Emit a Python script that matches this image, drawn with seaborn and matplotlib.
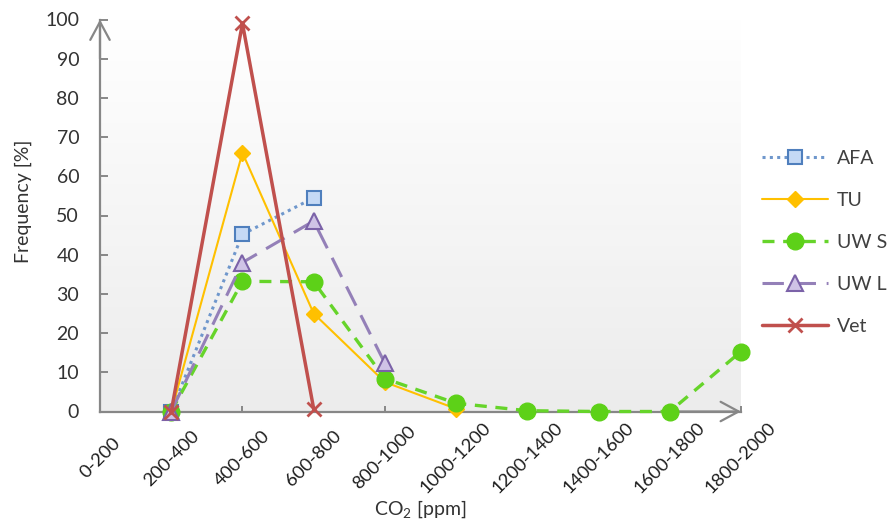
import numpy as np
import pandas as pd
import matplotlib
matplotlib.use("Agg")
import matplotlib.pyplot as plt
import matplotlib.transforms as mtransforms
from matplotlib.colors import LinearSegmentedColormap
import seaborn as sns

# ---------------- data ----------------
categories = ["0-200", "200-400", "400-600", "600-800", "800-1000", "1000-1200",
              "1200-1400", "1400-1600", "1600-1800", "1800-2000"]

afa_cats = ["200-400", "400-600", "600-800"]
afa_vals = [0, 45.2, 54.5]

tu_cats = ["200-400", "400-600", "600-800", "800-1000", "1000-1200"]
tu_vals = [0, 66.0, 25.0, 7.5, 0.7]

uws_cats = ["200-400", "400-600", "600-800", "800-1000", "1000-1200",
            "1200-1400", "1400-1600", "1600-1800", "1800-2000"]
uws_vals = [0, 33.2, 33.1, 8.4, 2.1, 0.2, 0, 0, 15.3]

uwl_cats = ["200-400", "400-600", "600-800", "800-1000"]
uwl_vals = [0, 38.0, 48.6, 12.3]

vet_cats = ["200-400", "400-600", "600-800"]
vet_vals = [0, 99.0, 0.7]

# ---------------- style ----------------
sns.set_theme(style="white")
plt.rcParams["font.family"] = ["Lato", "DejaVu Sans"]
plt.rcParams["mathtext.fontset"] = "custom"
plt.rcParams["mathtext.rm"] = "Lato"
plt.rcParams["mathtext.it"] = "Lato:italic"
plt.rcParams["mathtext.bf"] = "Lato:bold"

FS = 14
AXIS_GRAY = "#878787"

fig = plt.figure(figsize=(8.94, 5.22), dpi=100)
ax = fig.add_axes([100 / 894, 1 - 411.5 / 522, 641 / 894, 392 / 522])

# gradient background
cmap = LinearSegmentedColormap.from_list("bg", ["#ffffff", "#ececec"])
grad = np.linspace(0, 1, 256).reshape(-1, 1)
ax.imshow(grad, cmap=cmap, extent=(0, 1, 0, 1), transform=ax.transAxes,
          aspect="auto", zorder=0, interpolation="bicubic")

def to_df(cats, vals, name):
    return pd.DataFrame({"pos": [categories.index(c) for c in cats],
                         "val": vals, "series": name})

specs = [
    (to_df(afa_cats, afa_vals, "AFA"),
     dict(color="#6f97cc", linestyle=(0, (1, 1.4)), linewidth=2.2, marker="s",
          markersize=10, markerfacecolor="#c5d9f5", markeredgecolor="#4f7fbd",
          markeredgewidth=1.5)),
    (to_df(tu_cats, tu_vals, "TU"),
     dict(color="#ffc000", linestyle="-", linewidth=1.5, marker="D",
          markersize=8, markerfacecolor="#ffc000", markeredgecolor="#ffc000",
          markeredgewidth=1)),
    (to_df(uws_cats, uws_vals, "UW S"),
     dict(color="#66d42a", linestyle=(0, (3.6, 2.6)), linewidth=2.4, marker="o",
          markersize=12, markerfacecolor="#5dd118", markeredgecolor="#5dd118",
          markeredgewidth=1)),
    (to_df(uwl_cats, uwl_vals, "UW L"),
     dict(color="#9480b8", linestyle=(0, (7, 3.5)), linewidth=2.2, marker="^",
          markersize=11, markerfacecolor="#cfc3e6", markeredgecolor="#7b62a8",
          markeredgewidth=1.5)),
    (to_df(vet_cats, vet_vals, "Vet"),
     dict(color="#c0504d", linestyle="-", linewidth=2.5, marker="x",
          markersize=10, markeredgecolor="#c0504d", markeredgewidth=2)),
]

for i, (df, kw) in enumerate(specs):
    sns.lineplot(data=df, x="pos", y="val", ax=ax, label=df["series"].iloc[0],
                 clip_on=False, zorder=5 + i, **kw)

ax.set_xlim(0, len(categories) - 1)
ax.set_ylim(0, 100)

# axes styling
for s in ["top", "right"]:
    ax.spines[s].set_visible(False)
for s in ["left", "bottom"]:
    ax.spines[s].set_color(AXIS_GRAY)
    ax.spines[s].set_linewidth(1.6)
    ax.spines[s].set_zorder(3)

ax.set_yticks(np.arange(0, 101, 10))
ax.tick_params(axis="y", direction="in", length=6, width=1.4, color=AXIS_GRAY,
               labelsize=FS, labelcolor="#333333", pad=15, left=True)
ax.set_xticks(range(len(categories)))
ax.set_xticklabels(categories, rotation=45, ha="center", va="center")
ax.tick_params(axis="x", direction="in", length=4.5, width=1.4, color=AXIS_GRAY,
               labelsize=13.3, labelcolor="#1e1e1e", pad=0, bottom=True)
offset = mtransforms.ScaledTranslation(0.0, -0.465, fig.dpi_scale_trans)
for lab in ax.get_xticklabels():
    lab.set_transform(lab.get_transform() + offset)

ax.set_xlabel("CO$_2$ [ppm]", fontsize=FS, color="#333333", va="top")
ax.xaxis.set_label_coords(0.5, -0.222)
ax.set_ylabel("Frequency [%]", fontsize=FS, color="#333333")
ax.yaxis.set_label_coords(-0.106, 0.536)

# arrow heads on axes
arrow_kw = dict(arrowstyle="->,head_length=1.3,head_width=0.7", color=AXIS_GRAY,
                lw=1.6, mutation_scale=10, shrinkA=0, shrinkB=0)
ax.annotate("", xy=(0, 1.0), xytext=(0, 0.9), xycoords="axes fraction",
            arrowprops=arrow_kw, annotation_clip=False, zorder=3)
ax.annotate("", xy=(1.0, 0), xytext=(0.9, 0), xycoords="axes fraction",
            arrowprops=arrow_kw, annotation_clip=False, zorder=3)

# legend
handles, labels = ax.get_legend_handles_labels()
ax.get_legend().remove()
fig.legend(handles, labels, loc="center left", bbox_to_anchor=(762 / 894, 1 - 242.5 / 522),
           frameon=False, fontsize=FS, handlelength=3.4, handletextpad=0.45,
           labelspacing=1.28, borderpad=0, borderaxespad=0, labelcolor="#404040")

fig.savefig("out.png", dpi=100)
